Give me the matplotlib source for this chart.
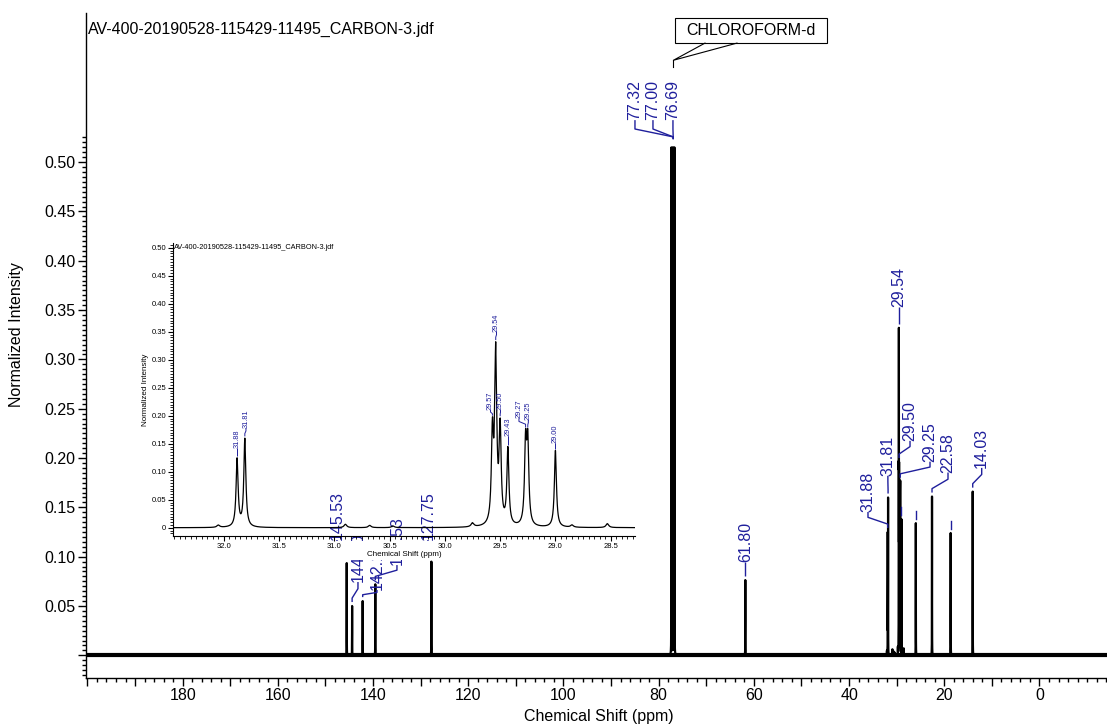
import numpy as np
import matplotlib
matplotlib.use('Agg')
import matplotlib.pyplot as plt
from matplotlib.patches import Rectangle
from matplotlib.ticker import FixedLocator, FuncFormatter

plt.rcParams['font.family'] = ['Liberation Sans', 'DejaVu Sans']

# ------------------------------------------------------------------ data
peak_ppm = [145.53, 144.40, 142.18, 139.53, 127.75, 77.32, 77.00, 76.69, 61.80,
            31.88, 31.81, 29.57, 29.54, 29.50, 29.43, 29.27, 29.25, 29.00,
            25.98, 22.58, 18.66, 14.03]
peak_height = [0.0935, 0.050, 0.055, 0.072, 0.095, 0.515, 0.515, 0.515, 0.0763,
               0.125, 0.160, 0.197, 0.332, 0.196, 0.145, 0.176, 0.176, 0.138,
               0.134, 0.161, 0.124, 0.166]
bump_ppm = [32.05, 30.90, 30.68, 30.47, 29.75, 28.85, 28.53]
bump_height = [0.004, 0.006, 0.004, 0.003, 0.007, 0.004, 0.007]

main_label_ppm = [145.53, 144.40, 142.18, 139.53, 127.75, 77.32, 77.00, 76.69,
                  61.80, 31.88, 31.81, 29.54, 29.50, 29.25, 22.58, 14.03]
unlabeled_ppm = [29.00, 25.98, 18.66]
inset_label_ppm = [31.88, 31.81, 29.57, 29.54, 29.50, 29.43, 29.27, 29.25, 29.00]

x_major = [0, 20, 40, 60, 80, 100, 120, 140, 160, 180]
y_major = [0.05, 0.10, 0.15, 0.20, 0.25, 0.30, 0.35, 0.40, 0.45, 0.50]
inset_x_major = [32.0, 31.5, 31.0, 30.5, 30.0, 29.5, 29.0, 28.5]
inset_y_major = [0, 0.05, 0.10, 0.15, 0.20, 0.25, 0.30, 0.35, 0.40, 0.45, 0.50]

title_text = 'AV-400-20190528-115429-11495_CARBON-3.jdf'
solvent_text = 'CHLOROFORM-d'
x_title = 'Chemical Shift (ppm)'
y_title = 'Normalized Intensity'

# ------------------------------------------------------------------ layout
# label anchor (ppm, text base) for main labels, same order as main_label_ppm
main_lab_x = [147.58, 143.17, 139.18, 134.98, 128.47, 84.98, 81.2, 77.0,
              61.80, 36.03, 31.85, 29.54, 27.2, 23.0, 19.22, 12.14]
main_lab_y = [0.1169, 0.0743, 0.0662, 0.0915, 0.1169, 0.5426, 0.5426, 0.5426,
              0.0946, 0.1453, 0.182, 0.353, 0.2174, 0.1963, 0.1853, 0.190]
inset_lab_x = [31.88, 31.80, 29.587, 29.533, 29.497, 29.43, 29.33, 29.245, 29.00]
inset_lab_y = [0.142, 0.178, 0.210, 0.350, 0.210, 0.163, 0.1955, 0.1925, 0.151]

BLUE = '#1f1f9c'
FWHM = 0.022


def lorentz(x, x0, w):
    return 1.0 / (1.0 + (2.0 * (x - x0) / w) ** 2)


pk = np.array(peak_ppm)
ph = np.array(peak_height)
M = lorentz(pk[:, None], pk[None, :], FWHM)
amp = np.linalg.solve(M, ph)
bp = np.array(bump_ppm)
bh = np.array(bump_height)


def spectrum(x):
    y = (amp[None, :] * lorentz(x[:, None], pk[None, :], FWHM)).sum(axis=1)
    y += (bh[None, :] * lorentz(x[:, None], bp[None, :], 0.03)).sum(axis=1)
    return y


def height_at(p):
    return float(spectrum(np.array([p]))[0])


fig = plt.figure(figsize=(11.07, 7.26), dpi=100)
ax = fig.add_axes([0.0777, 0.0668, 0.9223, 0.915])

xg = np.union1d(np.arange(-14.2, 200.3, 0.004), pk)
ax.plot(xg, spectrum(xg), color='black', lw=1.6, zorder=2)
ax.axhline(0, color='black', lw=3.0, zorder=2)

ax.set_xlim(200.3, -14.18)
ax.set_ylim(-0.0225, 0.651)
for s in ['top', 'right']:
    ax.spines[s].set_visible(False)
for s in ['left', 'bottom']:
    ax.spines[s].set_linewidth(1.0)

ax.xaxis.set_major_locator(FixedLocator(list(range(0, 201, 10))))
ax.xaxis.set_minor_locator(FixedLocator(list(range(-14, 201, 2))))
ax.xaxis.set_major_formatter(FuncFormatter(
    lambda v, p: '%d' % v if (round(v) in x_major) else ''))
ax.yaxis.set_major_locator(FixedLocator([0.0] + y_major))
ax.yaxis.set_minor_locator(FixedLocator(list(np.arange(-0.02, 0.526, 0.005))))
ax.yaxis.set_major_formatter(FuncFormatter(
    lambda v, p: '%.2f' % v if v > 0.01 else ''))
ax.tick_params(axis='both', which='major', direction='out', length=5.5,
               width=1.0, labelsize=11.5, pad=2)
ax.tick_params(axis='both', which='minor', direction='out', length=3,
               width=1.0)

fig.text(88 / 1107, 1 - 29 / 726, title_text, fontsize=11.5, va='center', ha='left')
fig.text(599 / 1107, 1 - 716 / 726, x_title, fontsize=11.5, ha='center', va='center')
fig.text(17 / 1107, 1 - 335 / 726, y_title, fontsize=11.5, ha='center',
         va='center', rotation=90)


def connector(a, px, y0, lx, ly, lw, d1, d2):
    xs = [px, px, lx, lx]
    ys = [y0, y0 + d1, ly - d2, ly]
    a.plot(xs, ys, color=BLUE, lw=lw, zorder=3, solid_capstyle='butt')


for p, lx, ly in zip(main_label_ppm, main_lab_x, main_lab_y):
    h = height_at(p)
    y0 = h + 0.004
    if h > 0.45:
        connector(ax, 76.95, 0.5233, lx, ly, 1.0, 0.0023, 0.009)
    else:
        connector(ax, p, y0, lx, ly, 1.0, min(0.004, (ly - y0) / 3),
                  min(0.008, (ly - y0) / 3))
    ax.text(lx, ly, '%.2f' % p, rotation=90, ha='center', va='bottom',
            color=BLUE, fontsize=11.5, zorder=3)

for p in unlabeled_ppm:
    h = height_at(p)
    ax.plot([p, p], [h + 0.004, h + 0.012], color=BLUE, lw=1.0, zorder=3)

# solvent call-out
ax.add_patch(Rectangle((76.58, 0.6207), 44.64 - 76.58, 0.0251,
                       facecolor='white', edgecolor='black', lw=0.8, zorder=4))
ax.text(60.6, 0.6335, solvent_text, ha='center', va='center', fontsize=11.5,
        zorder=5)
ax.plot([70.27, 76.9, 63.55], [0.6207, 0.6033, 0.6207], color='black', lw=0.8,
        zorder=4)
ax.plot([76.9, 76.9], [0.6033, 0.5962], color='black', lw=0.8, zorder=4)

# white area under the inset x axis
fig.add_artist(Rectangle((165 / 1107, 1 - 560 / 726), 475 / 1107, 19 / 726,
                         transform=fig.transFigure, facecolor='white',
                         edgecolor='none', zorder=1))

# ------------------------------------------------------------------ inset
ins = fig.add_axes([173 / 1107, 1 - 536 / 726, 462 / 1107, 293 / 726], zorder=2)
ins.set_facecolor('none')
xi = np.union1d(np.arange(28.2, 32.6, 0.001), pk[(pk > 28) & (pk < 33)])
ins.plot(xi, spectrum(xi), color='black', lw=0.9)
ins.set_xlim(32.46, 28.28)
ins.set_ylim(-0.0148, 0.5084)
for s in ['top', 'right']:
    ins.spines[s].set_visible(False)
for s in ['left', 'bottom']:
    ins.spines[s].set_linewidth(0.8)
ins.xaxis.set_major_locator(FixedLocator(inset_x_major))
ins.xaxis.set_minor_locator(FixedLocator(list(np.arange(28.3, 32.46, 0.05))))
ins.xaxis.set_major_formatter(FuncFormatter(lambda v, p: '%.1f' % v))
ins.yaxis.set_major_locator(FixedLocator(inset_y_major))
ins.yaxis.set_minor_locator(FixedLocator(list(np.arange(-0.01, 0.506, 0.005))))
ins.yaxis.set_major_formatter(FuncFormatter(
    lambda v, p: '0' if abs(v) < 1e-9 else '%.2f' % v))
ins.tick_params(axis='both', which='major', direction='out', length=3.5,
                width=0.8, labelsize=5.5, pad=1.5)
ins.tick_params(axis='both', which='minor', direction='out', length=2,
                width=0.6)
ins.text(0.002, 0.985, title_text, transform=ins.transAxes, fontsize=5.3,
         ha='left', va='center')
ins.set_xlabel(x_title, fontsize=5.8, labelpad=1)
ins.set_ylabel(y_title, fontsize=5.8, labelpad=2)

for p, lx, ly in zip(inset_label_ppm, inset_lab_x, inset_lab_y):
    h = height_at(p)
    y0 = h + 0.003
    connector(ins, p, y0, lx, ly, 0.7, (ly - y0) * 0.35, (ly - y0) * 0.35)
    ins.text(lx, ly, '%.2f' % p, rotation=90, ha='center', va='bottom',
             color=BLUE, fontsize=5.3)

fig.savefig('out.png', dpi=100)
